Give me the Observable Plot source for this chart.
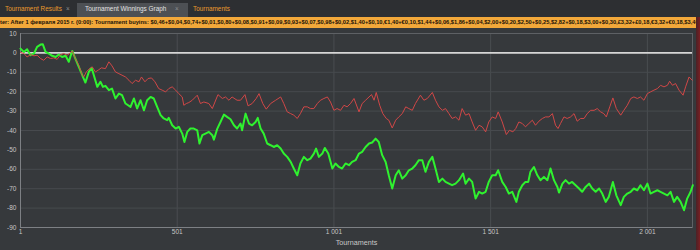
<!DOCTYPE html>
<html>
<head>
<meta charset="utf-8">
<script src="https://cdn.jsdelivr.net/npm/d3@7"></script>
<script src="https://cdn.jsdelivr.net/npm/@observablehq/plot@0.6"></script>
<style>
  html, body { margin: 0; padding: 0; background: #2d2f32; }
  #wrap { position: relative; width: 700px; height: 250px; overflow: hidden; background: #36393c; }
  #tabs { position: relative; height: 17px; background: #2d2f32; font-family: "Liberation Sans", Arial, sans-serif; font-size: 6.4px; }
  #tabs span { position: absolute; top: 5px; white-space: nowrap; }
  .tab { color: #e89a2c; }
  .x { color: #8a8c90; }
  #active { position: absolute; left: 77px; top: 3px; width: 111px; height: 14px; background: #4d5054; }
  #filter { height: 11px; line-height: 11px; background: #f2a83a; color: #1a1208; font-family: "Liberation Sans", Arial, sans-serif; font-weight: bold; font-size: 5.7px; white-space: nowrap; overflow: hidden; }
  #chart { position: absolute; left: 0; top: 28px; }
  #edge { position: absolute; right: 0; top: 17px; width: 4px; height: 233px; background: linear-gradient(to right, #4a2226, #7a1e22); }
</style>
</head>
<body>
<div id="wrap">
  <div id="tabs">
    <div id="active"></div>
    <span class="tab" style="left:5px">Tournament Results</span>
    <span class="x" style="left:66px">×</span>
    <span style="left:85px;color:#e2e2e2">Tournament Winnings Graph</span>
    <span class="x" style="left:175px">×</span>
    <span class="tab" style="left:193px">Tournaments</span>
  </div>
  <div id="filter">ter: After 1 февраля 2015 г. (0:00): Tournament buyins: $0,46+$0,04,$0,74+$0,01,$0,80+$0,08,$0,91+$0,09,$0,93+$0,07,$0,98+$0,02,$1,40+$0,10,€1,40+€0,10,$1,44+$0,06,$1,86+$0,04,$2,00+$0,20,$2,50+$0,25,$2,82+$0,18,$3,00+$0,30,£3,32+£0,18,€3,32+€0,18,$3,40</div>
  <div id="chart"></div>
  <div id="edge"></div>
</div>
<script>
// Tournament number and cumulative winnings
const greenSeries = [
  [1,2.2],[12,0.5],[22,1.9],[33,-1.2],[44,-0.3],[54,3.1],[65,4.3],[72,4.5],[81,0.5],[91,-0.3],
  [102,-1.5],[113,-2.1],[123,-0.9],[134,-2.1],[145,-1.5],[155,-4.6],[166,1.0],[176,-2.9],[187,-7.2],[198,-11.5],
  [208,-15.3],[219,-9.8],[228,-7.7],[235,-11.5],[246,-17.5],[256,-14.9],[264,-17.5],[272,-17.0],[283,-19.2],[293,-18.4],
  [304,-23.5],[315,-21.0],[325,-21.8],[336,-26.1],[352,-27.8],[363,-23.5],[373,-28.7],[384,-24.4],[395,-29.6],[405,-24.4],
  [416,-22.7],[426,-23.5],[437,-27.8],[448,-32.1],[458,-33.8],[469,-34.7],[474,-33.5],[485,-37.3],[496,-39.0],[506,-38.1],
  [517,-41.6],[524,-45.9],[533,-40.7],
  [543,-39.0],[554,-39.0],[565,-39.9],[572,-46.7],[581,-42.4],[591,-41.6],[602,-40.7],[613,-42.4],[618,-44.7],[629,-39.0],
  [639,-35.6],[650,-31.8],[660,-33.0],[671,-34.2],[682,-37.3],[692,-39.0],[703,-36.4],[708,-39.9],[719,-31.3],[730,-36.4],
  [740,-37.3],[751,-35.6],[758,-33.5],[767,-39.0],[777,-41.6],[788,-46.7],[799,-47.6],[809,-48.5],[820,-47.6],[831,-49.3],
  [841,-51.9],[852,-53.6],[863,-56.2],[873,-59.6],[884,-63.1],[894,-57.0],[905,-53.6],[916,-55.3],[926,-54.5],[937,-51.9],
  [944,-49.3],[953,-53.6],[964,-51.9],[972,-49.0],[983,-51.9],[996,-59.6],[1006,-57.0],[1017,-58.8],[1027,-59.6],[1038,-57.0],
  [1049,-57.9],[1059,-56.2],[1070,-55.3],
  [1081,-51.9],[1091,-51.0],[1102,-48.5],[1113,-46.7],[1123,-46.2],[1134,-44.2],[1144,-45.9],[1155,-52.7],[1166,-56.2],[1176,-63.1],
  [1187,-69.9],[1198,-63.1],[1208,-60.5],[1219,-64.8],[1230,-63.1],[1240,-60.5],[1251,-59.6],[1261,-57.9],[1272,-55.3],[1283,-55.3],
  [1293,-61.3],[1304,-56.2],[1315,-53.6],[1325,-59.6],[1336,-66.5],[1347,-64.8],[1357,-66.5],[1368,-67.4],[1378,-68.2],[1389,-67.4],
  [1400,-65.6],[1413,-62.2],[1421,-67.4],[1432,-64.8],[1442,-66.5],[1453,-75.1],[1464,-71.6],[1474,-72.5],[1485,-71.6],[1495,-66.5],
  [1506,-63.1],[1517,-63.1],[1525,-60.5],[1538,-66.5],[1549,-69.1],[1559,-72.5],[1570,-71.6],[1583,-76.8],[1591,-71.6],[1602,-68.2],
  [1612,-66.5],
  [1621,-66.5],[1628,-61.3],[1639,-58.8],[1650,-63.1],[1660,-65.6],[1671,-63.9],[1682,-65.6],[1692,-59.6],[1703,-65.6],[1714,-69.1],
  [1719,-72.0],[1730,-67.4],[1740,-65.6],[1751,-67.4],[1761,-66.5],[1772,-68.2],[1783,-69.9],[1793,-71.6],[1804,-69.1],[1815,-67.4],
  [1825,-69.9],[1836,-71.6],[1847,-69.9],[1857,-72.5],[1868,-76.8],[1878,-74.2],[1891,-66.5],[1902,-73.4],[1916,-78.5],[1926,-74.2],
  [1937,-72.5],[1948,-71.6],[1958,-69.9],[1969,-70.8],[1979,-68.2],[1990,-70.8],[2001,-67.4],[2011,-72.5],[2022,-71.6],[2033,-70.8],
  [2043,-71.6],[2054,-72.5],[2065,-73.4],[2075,-71.6],[2086,-76.8],[2096,-74.2],[2107,-76.8],[2118,-81.1],[2128,-75.1],[2139,-71.6],
  [2146,-68.2]
];
const redSeries = [
  [1,0.2],[12,-0.3],[22,-2.1],[33,-0.9],[44,-1.5],[54,-1.2],[65,-2.9],[75,-3.8],[86,-2.1],[97,-2.9],
  [107,-2.6],[118,-3.3],[129,-0.9],[139,-0.3],[150,-1.2],[161,0.2],[166,0.9],[176,-2.9],[187,-6.4],[198,-11.5],
  [203,-12.4],[211,-9.8],[219,-8.4],[230,-7.2],[240,-9.8],[249,-8.9],[259,-7.7],[272,-8.1],[283,-4.6],[293,-6.7],
  [304,-9.8],[315,-10.7],[325,-11.5],[336,-12.4],[347,-14.1],[357,-15.8],[368,-14.1],[379,-14.9],[387,-12.4],[398,-14.9],
  [408,-13.2],[419,-12.9],[430,-14.9],[442,-18.4],[453,-19.2],[464,-20.1],[474,-18.4],[485,-17.5],[496,-19.2],[506,-21.0],
  [517,-22.7],[522,-27.0],[530,-26.1],[538,-25.6],
  [549,-24.4],[565,-21.8],[575,-26.1],[586,-25.3],[602,-26.1],[613,-28.7],[631,-21.5],[645,-23.5],[655,-22.7],[666,-24.4],
  [676,-22.7],[692,-24.4],[703,-24.4],[717,-21.5],[727,-27.3],[740,-26.1],[753,-23.5],[762,-21.0],[774,-26.1],[785,-29.0],
  [799,-26.1],[815,-24.4],[831,-22.7],[841,-26.1],[852,-30.4],[863,-31.3],[873,-32.1],[884,-33.8],[894,-31.3],[905,-27.8],
  [916,-27.8],[926,-28.7],[937,-28.7],[948,-26.1],[958,-24.4],[969,-23.5],[980,-22.7],[990,-25.3],[1001,-29.6],[1011,-28.7],
  [1022,-29.6],[1033,-27.0],[1043,-27.8],[1054,-26.1],[1065,-23.5],
  [1081,-30.4],[1091,-26.1],[1102,-24.4],[1113,-22.7],[1121,-21.5],[1129,-24.4],[1136,-20.4],[1147,-27.0],[1157,-31.3],[1168,-33.8],
  [1176,-34.7],[1187,-38.7],[1198,-34.7],[1208,-33.0],[1219,-31.3],[1230,-27.8],[1240,-28.7],[1251,-29.6],[1261,-26.1],[1277,-21.8],
  [1288,-24.4],[1299,-23.5],[1315,-20.4],[1325,-24.4],[1336,-27.8],[1347,-29.6],[1357,-28.7],[1368,-31.3],[1378,-33.8],[1389,-33.0],
  [1400,-34.7],[1410,-28.7],[1421,-32.1],[1432,-31.3],[1442,-35.6],[1453,-39.9],[1464,-37.3],[1474,-38.1],[1485,-40.7],[1495,-35.6],
  [1506,-33.0],[1517,-33.8],[1525,-30.4],[1538,-35.6],[1551,-42.1],[1561,-39.9],[1572,-40.7],[1581,-39.0],[1591,-35.6],[1602,-36.4],
  [1612,-38.1],
  [1623,-36.4],[1634,-34.7],[1644,-37.3],[1655,-35.2],[1666,-33.8],[1676,-33.0],[1687,-33.0],[1698,-31.3],[1708,-37.3],[1716,-39.0],
  [1724,-36.4],[1735,-33.0],[1745,-33.8],[1756,-33.0],[1767,-31.3],[1777,-35.2],[1788,-33.8],[1799,-33.8],[1809,-31.3],[1820,-29.6],
  [1831,-29.6],[1841,-28.7],[1852,-30.4],[1862,-31.3],[1870,-33.0],[1881,-27.8],[1891,-23.2],[1902,-28.7],[1916,-32.1],[1926,-29.6],
  [1937,-27.0],[1948,-23.5],[1958,-22.7],[1969,-23.5],[1979,-22.7],[1990,-24.4],[2001,-21.0],[2011,-20.1],[2022,-19.2],[2033,-18.4],
  [2043,-16.7],[2054,-17.5],[2065,-16.7],[2072,-14.6],[2081,-16.7],[2091,-15.8],[2102,-19.2],[2115,-21.8],[2123,-17.5],[2134,-12.4],
  [2144,-14.1]
];
const xTicks = [1, 501, 1001, 1501, 2001];
const xTickLabels = ["1", "501", "1 001", "1 501", "2 001"];
const yTicks = [10, 0, -10, -20, -30, -40, -50, -60, -70, -80, -90];
const xTitle = "Tournaments";

const green = greenSeries.map(([t, v]) => ({t, v}));
const red = redSeries.map(([t, v]) => ({t, v}));

const chart = Plot.plot({
  width: 700,
  height: 222,
  marginTop: 5,
  marginBottom: 23,
  marginLeft: 20,
  marginRight: 8,
  style: {background: "#36393c", color: "#c6c6c6", fontFamily: "'Liberation Sans', Arial, sans-serif", fontSize: "6.5px", overflow: "visible"},
  x: {domain: [1, 2145]},
  y: {domain: [-90, 10]},
  marks: [
    Plot.gridX(xTicks, {stroke: "#4a4d51", strokeOpacity: 1}),
    Plot.gridY(yTicks, {stroke: "#474a4e", strokeOpacity: 1}),
    Plot.frame({stroke: "#5e6165"}),
    Plot.ruleX([1], {stroke: "#7d8084"}),
    Plot.ruleY([-90], {stroke: "#7d8084"}),
    Plot.ruleY([0], {stroke: "#d6d6d6", strokeWidth: 1.8}),
    Plot.line(green, {x: "t", y: "v", stroke: "#2ff22f", strokeWidth: 2, curve: "linear"}),
    Plot.line(red, {x: "t", y: "v", stroke: "#d04747", strokeWidth: 1, curve: "linear"}),
    Plot.axisY(yTicks, {tickSize: 0, tickPadding: 4, tickFormat: d => String(d), label: null}),
    Plot.axisX(xTicks, {tickSize: 0, tickPadding: 2, tickFormat: d => xTickLabels[xTicks.indexOf(d)], label: null}),
    Plot.text([xTitle], {frameAnchor: "bottom", dy: 17, fontSize: 7.2, fill: "#c8c8c8"})
  ]
});
document.getElementById("chart").append(chart);
</script>
</body>
</html>
